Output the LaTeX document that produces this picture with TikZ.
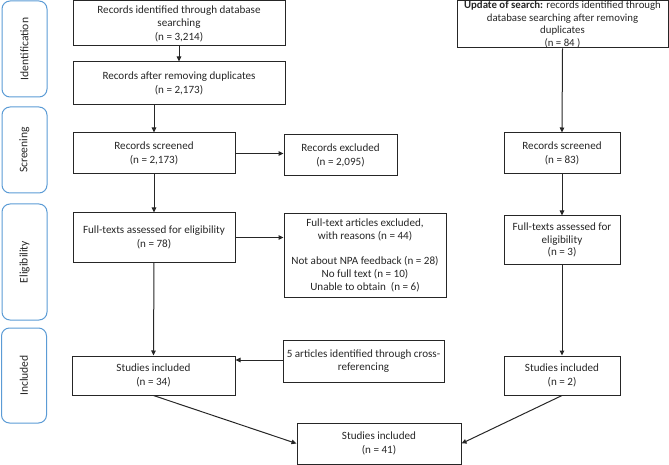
\documentclass[tikz,border=0pt]{standalone}
\usepackage{fontspec}
\setmainfont{Carlito}
\usetikzlibrary{arrows.meta}
\definecolor{sideblue}{HTML}{5B9BD5}
\definecolor{boxline}{HTML}{262626}
\tikzset{
  box/.style={draw=boxline, line width=1pt, inner sep=0pt, align=center,
    font=\fontsize{11.1}{13.5}\selectfont, text=black!85},
  side/.style={draw=sideblue, line width=1pt, rounded corners=8pt, inner sep=0pt,
    minimum width=45pt, font=\fontsize{11.6}{14}\selectfont, text=black!85},
  arr/.style={draw=boxline, line width=1pt, -{Triangle[length=5pt,width=4.5pt]}}
}
\begin{document}
\begin{tikzpicture}[x=1pt,y=-1pt]
\useasboundingbox (0,0) rectangle (669,465);
% side labels
\node[side, minimum height=96pt] (sid) at (24.5,49) {\rotatebox{90}{Identification}};
\node[side, minimum height=86pt] (ssc) at (24.5,150) {\rotatebox{90}{Screening}};
\node[side, minimum height=116pt] (sel) at (24.5,262) {\rotatebox{90}{Eligibility}};
\node[side, minimum height=95pt] (sin) at (24,375.5) {\rotatebox{90}{Included}};
% left column
\node[box, minimum width=212pt, minimum height=45pt] (b1) at (179,23.5)
  {Records identified through database\\searching\\(n = 3,214)};
\node[box, minimum width=212pt, minimum height=43pt] (b2) at (179,83.5)
  {Records after removing duplicates\\(n = 2,173)};
\node[box, minimum width=162pt, minimum height=41pt] (b3) at (154,153.5)
  {Records screened\\(n = 2,173)};
\node[box, minimum width=113pt, minimum height=41pt] (ex1) at (340.5,155.5)
  {Records excluded\\(n = 2,095)};
\node[box, minimum width=162pt, minimum height=49pt] (b4) at (154,237.5)
  {Full-texts assessed for eligibility\\(n = 78)};
\node[box, minimum width=162pt, minimum height=83pt, font=\fontsize{11.1}{12.8}\selectfont] (ex2) at (365,255.5)
  {Full-text articles excluded,\\with reasons (n = 44)\\[12pt]Not about NPA feedback (n = 28)\\No full text (n = 10)\\Unable to obtain~ (n = 6)};
\node[box, minimum width=163pt, minimum height=39pt] (b5) at (153.5,375.5)
  {Studies included\\(n = 34)};
\node[box, minimum width=161pt, minimum height=42pt] (cr) at (363.5,361)
  {5 articles identified through cross-\\referencing};
\node[box, minimum width=164pt, minimum height=41pt] (fin) at (379,443.5)
  {Studies included\\(n = 41)};
% right column
\node[box, minimum width=211pt, minimum height=47pt, font=\fontsize{10.8}{12.6}\selectfont] (u1) at (562.5,24.5)
  {\textbf{Update of search:} records identified through\\database searching after removing\\duplicates\\(n = 84 )};
\node[box, minimum width=116pt, minimum height=41pt] (u2) at (562,153.5)
  {Records screened\\(n = 83)};
\node[box, minimum width=116pt, minimum height=48pt, font=\fontsize{11.1}{12.8}\selectfont] (u3) at (562,240)
  {Full-texts assessed for\\eligibility\\(n = 3)};
\node[box, minimum width=116pt, minimum height=39pt] (u4) at (562,375.5)
  {Studies included\\(n = 2)};
% connectors
\draw[arr] (b1.south) -- (b2.south |- b2.north);
\draw[arr] (b3.north |- b2.south) -- (b3.north);
\draw[arr] (b3.east) -- (ex1.west |- b3.east);
\draw[arr] (b3.south) -- (b4.north);
\draw[arr] (b4.east) -- (ex2.west |- b4.east);
\draw[arr] (b4.south) -- (b5.north);
\draw[arr] (cr.west |- 0,360) -- (b5.east |- 0,360);
\draw[arr] (b5.south) -- (fin.west);
\draw[arr] (u1.south) -- (u2.north);
\draw[arr] (u2.south) -- (u3.north);
\draw[arr] (u3.south) -- (u4.north);
\draw[arr] (u4.south) -- (fin.east);
\end{tikzpicture}
\end{document}
